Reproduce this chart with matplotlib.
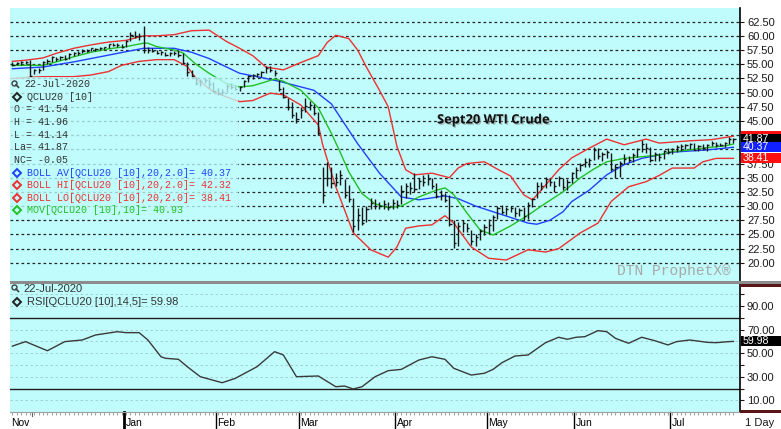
import numpy as np
import pandas as pd
import matplotlib
matplotlib.use('Agg')
import matplotlib.pyplot as plt
import matplotlib.transforms as mtransforms
import matplotlib.patheffects as pe
from matplotlib.patches import Rectangle
from matplotlib.lines import Line2D

plt.rcParams['font.family'] = ['Liberation Sans', 'DejaVu Sans']

# trading days Nov 22 2019 .. Jul 22 2020
holidays = ['2019-11-28', '2019-12-25', '2020-01-01', '2020-01-20',
            '2020-02-17', '2020-04-10', '2020-05-25', '2020-07-03']
dates = pd.bdate_range('2019-11-22', '2020-07-22')
dates = dates[~dates.isin(pd.to_datetime(holidays))]

high = [
    55.3, 55.4, 55.5, 55.6, 55.7, 54.2, 54.3, 55.6, 56.0, 56.4,
    56.3, 56.5, 56.6, 57.0, 57.2, 57.3, 57.6, 57.7, 57.9, 57.9,
    58.0, 58.1, 58.6, 58.7, 58.8, 58.6, 59.2, 60.6, 60.8, 60.5,
    61.8, 58.0, 57.9, 57.5, 57.4, 57.2, 57.1, 57.3, 57.5, 56.9,
    55.3, 54.0, 52.8, 52.4, 52.6, 52.4, 51.9, 50.8, 50.6, 51.5,
    51.6, 51.3, 51.2, 52.3, 53.1, 53.3, 53.4, 53.8, 54.7, 54.6,
    54.0, 52.2, 50.9, 49.0, 48.4, 46.5, 47.5, 49.0, 48.6, 48.0,
    46.6, 36.9, 37.8, 36.8, 35.8, 36.4, 34.8, 33.8, 31.5, 29.6,
    29.8, 30.0, 31.4, 31.2, 30.8, 31.0, 30.7, 31.2, 31.0, 33.7,
    34.0, 34.2, 35.8, 35.0, 35.5, 35.6, 35.0, 34.0, 32.8, 32.3,
    32.0, 27.5, 27.2, 27.6, 27.0, 25.8, 25.0, 26.0, 26.8, 27.8,
    28.5, 30.0, 30.2, 29.9, 30.1, 29.9, 29.6, 29.8, 30.8, 31.5,
    34.2, 34.3, 35.1, 35.0, 34.4, 35.3, 35.0, 34.8, 36.0, 36.8,
    37.6, 38.5, 38.5, 40.4, 40.3, 39.6, 39.8, 39.4, 37.5, 38.0,
    39.1, 38.9, 39.3, 40.3, 41.6, 41.2, 40.4, 39.5, 39.3, 39.9,
    40.2, 40.3, 40.8, 40.9, 41.0, 41.1, 41.1, 40.8, 41.0, 40.9,
    41.4, 41.3, 41.1, 41.3, 42.2, 41.96]
low = [
    54.6, 54.8, 54.9, 55.0, 52.8, 53.2, 53.4, 54.0, 55.0, 55.3,
    55.6, 55.7, 55.8, 55.9, 56.4, 56.7, 56.9, 57.1, 57.3, 57.4,
    57.5, 57.6, 57.9, 58.2, 58.1, 57.8, 58.0, 59.0, 59.6, 59.3,
    56.9, 57.0, 57.1, 56.8, 56.7, 56.4, 56.4, 56.7, 56.3, 55.0,
    53.0, 52.5, 51.3, 51.2, 51.6, 50.8, 50.1, 49.6, 49.6, 50.1,
    50.7, 50.4, 50.3, 50.9, 51.8, 52.4, 52.7, 52.7, 53.5, 53.6,
    53.0, 50.2, 49.0, 47.0, 45.5, 44.6, 45.5, 46.5, 47.0, 46.0,
    42.5, 30.5, 33.5, 33.2, 33.6, 33.7, 31.5, 30.8, 25.5, 25.8,
    26.6, 27.2, 29.4, 29.5, 29.4, 29.5, 29.3, 29.5, 29.6, 30.4,
    31.5, 32.2, 32.5, 33.0, 33.5, 33.8, 33.0, 31.4, 31.0, 30.7,
    26.5, 22.6, 23.0, 25.5, 25.4, 23.2, 23.0, 24.0, 24.9, 25.0,
    25.6, 27.8, 28.6, 28.5, 29.0, 28.0, 28.2, 27.6, 27.8, 29.8,
    31.5, 32.8, 33.2, 33.6, 32.5, 33.6, 32.9, 32.8, 34.0, 34.9,
    36.2, 36.8, 36.9, 38.1, 38.3, 38.0, 38.5, 36.2, 35.0, 35.2,
    37.5, 37.7, 37.8, 38.6, 39.5, 39.3, 37.8, 37.9, 38.0, 38.3,
    39.2, 39.1, 39.6, 39.7, 40.0, 40.0, 39.8, 39.7, 39.8, 39.7,
    40.6, 40.4, 40.5, 40.4, 41.0, 41.14]
close = [
    54.9, 55.2, 55.3, 55.4, 53.0, 53.9, 54.0, 55.4, 55.6, 56.2,
    55.9, 56.2, 56.0, 56.8, 56.9, 57.0, 57.4, 57.3, 57.8, 57.7,
    57.8, 58.0, 58.5, 58.4, 58.3, 58.1, 59.0, 60.2, 59.9, 60.0,
    57.5, 57.5, 57.4, 57.0, 57.2, 56.6, 56.9, 57.0, 56.6, 55.2,
    53.6, 52.9, 51.6, 52.0, 52.2, 51.5, 50.3, 50.0, 50.1, 51.2,
    51.0, 50.6, 50.9, 52.0, 52.9, 53.1, 53.2, 53.6, 54.4, 54.0,
    53.5, 50.6, 49.3, 47.5, 46.0, 45.3, 47.0, 47.6, 47.8, 46.4,
    42.9, 32.0, 35.0, 34.0, 34.3, 35.5, 32.0, 31.2, 26.5, 28.5,
    27.0, 29.5, 30.5, 30.0, 30.1, 30.3, 29.8, 30.6, 30.2, 32.7,
    33.5, 33.2, 33.0, 34.5, 34.2, 34.8, 33.6, 31.8, 32.0, 31.0,
    26.9, 23.5, 26.5, 27.0, 26.2, 23.8, 24.5, 25.6, 26.4, 26.6,
    28.0, 29.6, 28.9, 29.4, 29.7, 28.7, 29.3, 28.2, 30.2, 31.2,
    33.6, 33.5, 34.8, 34.3, 33.5, 34.9, 33.4, 34.2, 35.8, 36.4,
    37.3, 37.8, 38.2, 39.9, 38.8, 39.2, 39.6, 36.6, 36.9, 37.6,
    38.3, 38.2, 39.0, 40.0, 40.9, 40.2, 38.2, 39.1, 38.6, 39.7,
    39.5, 40.0, 40.4, 40.5, 40.7, 40.9, 39.9, 40.6, 40.2, 40.7,
    41.2, 40.8, 40.7, 41.2, 41.9, 41.87]

# bollinger upper / lower / average and 10-day average, read at sample days
hi_idx = [0, 3, 7, 10, 14, 18, 22, 26, 30, 33, 37, 41, 45, 49, 52, 55, 58, 62, 66, 70,
          72, 74, 77, 79, 81, 84, 86, 88, 90, 92, 96, 100, 102, 104, 108, 111, 114, 117, 119, 121,
          125, 128, 132, 136, 140, 145, 148, 155, 160, 165]
hi_val = [55.5, 55.7, 56.1, 56.9, 57.8, 58.4, 58.9, 59.2, 60.0, 60.0, 60.2, 60.9, 61.0, 59.0, 57.8,
          56.5, 54.5, 54.0, 55.3, 56.5, 58.8, 60.1, 59.5, 57.5, 54.5, 50.4, 47.5, 40.5, 36.4, 35.5,
          35.8, 35.0, 36.7, 37.5, 37.8, 36.5, 35.3, 32.0, 31.1, 32.8, 36.4, 38.5, 40.2, 41.8, 40.8,
          41.8, 41.1, 41.5, 41.7, 42.32]
lo_idx = [0, 7, 14, 18, 22, 25, 29, 33, 37, 40, 42, 46, 52, 55, 59, 62, 66, 70, 71, 74,
          78, 82, 86, 88, 90, 93, 96, 99, 101, 105, 109, 113, 118, 122, 125, 130, 134, 137, 141, 145,
          148, 151, 156, 158, 161, 165]
lo_val = [52.5, 52.8, 52.8, 53.1, 53.7, 54.8, 55.5, 55.8, 55.8, 54.6, 52.5, 50.1, 48.4, 48.6, 49.9,
          49.6, 47.8, 44.3, 40.8, 33.4, 25.3, 22.3, 21.0, 22.8, 26.1, 26.5, 26.7, 28.3, 27.0, 22.8,
          20.8, 20.5, 22.3, 21.9, 22.5, 25.3, 27.0, 30.8, 33.4, 34.3, 35.4, 36.7, 36.7, 37.8, 38.4,
          38.41]
av_idx = [0, 7, 14, 18, 22, 26, 30, 37, 41, 45, 49, 52, 56, 61, 66, 69, 73, 76, 79, 84,
          89, 93, 99, 102, 106, 110, 114, 118, 120, 123, 126, 128, 132, 136, 140, 144, 148, 151, 155, 159,
          163, 165]
av_val = [54.2, 54.5, 55.4, 56.0, 56.6, 57.2, 57.8, 57.8, 57.1, 56.0, 54.5, 53.4, 52.8, 52.0, 51.0,
          50.4, 48.0, 44.5, 41.0, 35.8, 31.6, 31.1, 31.8, 31.3, 30.0, 29.0, 28.0, 27.0, 26.8, 27.5,
          29.0, 30.8, 32.8, 35.5, 37.3, 38.4, 39.0, 39.5, 39.7, 39.9, 40.2, 40.37]
ma_idx = [0, 7, 10, 14, 18, 22, 26, 30, 31, 33, 37, 39, 42, 45, 49, 52, 55, 58, 60, 62,
          66, 70, 73, 75, 77, 80, 83, 86, 89, 93, 97, 99, 101, 104, 107, 110, 114, 118, 122, 126,
          130, 133, 136, 140, 144, 148, 151, 155, 159, 163, 165]
ma_val = [54.8, 54.8, 55.4, 56.3, 57.1, 57.7, 58.1, 58.7, 58.7, 58.1, 57.5, 57.0, 55.0, 53.4, 51.6,
          51.0, 51.2, 51.9, 52.4, 52.0, 50.4, 47.3, 42.8, 39.5, 36.0, 32.2, 30.4, 29.7, 30.0, 31.6,
          32.8, 33.2, 32.0, 28.8, 25.8, 24.9, 26.5, 28.4, 30.5, 32.5, 35.0, 36.5, 37.8, 38.4, 38.7,
          39.0, 39.6, 39.9, 40.3, 40.6, 40.93]

rsi_idx = [0, 3, 8, 12, 16, 19, 24, 26, 29, 31, 34, 35, 38, 40, 43, 48, 51, 56, 60, 62,
           65, 70, 74, 76, 78, 80, 83, 86, 89, 93, 96, 99, 101, 105, 108, 110, 112, 115, 118, 122,
           125, 127, 129, 131, 134, 136, 138, 141, 144, 147, 150, 152, 155, 159, 161, 164, 165]
rsi_val = [56.0, 59.8, 52.1, 59.8, 61.2, 65.4, 68.2, 67.4, 67.4, 61.2, 47.0, 45.7, 44.8, 38.6, 30.1,
           25.0, 28.7, 38.6, 51.3, 48.5, 30.1, 30.7, 21.6, 22.2, 19.7, 21.6, 30.1, 35.2, 36.3, 44.2,
           47.0, 44.8, 37.2, 31.5, 33.0, 36.3, 41.9, 47.6, 48.5, 58.9, 63.5, 61.8, 63.5, 64.0, 69.1,
           68.2, 62.6, 58.4, 63.5, 60.6, 57.0, 59.8, 61.2, 59.2, 58.9, 59.8, 59.98]

months = ['Nov', 'Dec', 'Jan', 'Feb', 'Mar', 'Apr', 'May', 'Jun', 'Jul']

W, H = 781, 429
BG = '#c0fcfc'
BLUE, RED, GREEN = '#2040ff', '#ee3030', '#22c022'


def fx(px):
    return px / W


def fy(py):
    return 1 - py / H


fig = plt.figure(figsize=(W / 100, H / 100), dpi=100)
ax1 = fig.add_axes([fx(10), fy(281), 730 / W, 273 / H], facecolor=BG)
ax2 = fig.add_axes([fx(10), fy(412), 730 / W, 128 / H], facecolor=BG)

x = np.arange(len(dates))

# ---- price panel
grid_lv = np.arange(20, 62.51, 2.5)
for v in grid_lv:
    ax1.axhline(v, color='#262626', lw=0.9, ls=(0, (2.2, 2.2)), zorder=1)

ax1.plot(hi_idx, hi_val, color=RED, lw=1, zorder=2)
ax1.plot(lo_idx, lo_val, color=RED, lw=1, zorder=2)
ax1.plot(av_idx, av_val, color=BLUE, lw=1, zorder=2)
ax1.plot(ma_idx, ma_val, color=GREEN, lw=1, zorder=2)
ax1.vlines(x, low, high, color='#151515', lw=1, zorder=3)
ax1.hlines(close, x, x + 0.5, color='#151515', lw=1, zorder=3)

ax1.set_xlim(-0.55, 166.5)
ax1.set_ylim(16.8, 64.9)
ax1.yaxis.tick_right()
ax1.set_yticks(grid_lv)
# 42.50 and 40.00 sit under the value flags and are not shown
ax1.set_yticklabels(['' if v in (42.5, 40.0) else '%.2f' % v for v in grid_lv])
ax1.tick_params(axis='y', direction='out', length=3, width=0.8, pad=2,
                labelsize=8, colors='#1a1a1a')
ax1.set_xticks([])
for s in ['top', 'left', 'bottom']:
    ax1.spines[s].set_visible(False)
ax1.spines['right'].set_linewidth(1.2)

# ---- RSI panel
for v in [10, 30, 40, 50, 60, 70, 90, 100]:
    ax2.axhline(v, color='#9ccccc', lw=0.6, ls=(0, (3, 3)), zorder=1)
ax2.axhline(80, color='#202020', lw=1, zorder=2)
ax2.axhline(20, color='#202020', lw=1, zorder=2)
ax2.plot(rsi_idx, rsi_val, color='#3a3a3a', lw=1, zorder=3)
ax2.set_xlim(-0.55, 166.5)
ax2.set_ylim(0.2, 108.6)
ax2.yaxis.tick_right()
rsi_ticks = list(range(10, 101, 10))
ax2.set_yticks(rsi_ticks)
ax2.set_yticklabels(['%.2f' % v if v % 20 == 10 and v != 60 else '' for v in rsi_ticks])
ax2.tick_params(axis='y', direction='out', length=3, width=0.8, pad=2,
                labelsize=8, colors='#1a1a1a')
ax2.set_xticks([])
ax2.set_xticks(x, minor=True)
ax2.tick_params(axis='x', which='minor', length=2, width=0.6, color='#909090')
for s in ['top', 'left']:
    ax2.spines[s].set_visible(False)
ax2.spines['bottom'].set_color('#a0a0a0')
ax2.spines['right'].set_linewidth(1.2)

# month ruler
month_start = [0]
for i in range(1, len(dates)):
    if dates[i].month != dates[i - 1].month:
        month_start.append(i)
xt = ax2.get_xaxis_transform()
for k, i in enumerate(month_start):
    name = months[k]
    if name == 'Nov':
        ax2.text(-0.3, -0.085, name, transform=xt, ha='left', va='center', fontsize=7.5)
        continue
    if name == 'Dec':
        ax2.plot([i - 0.5, i - 0.5], [0, -0.035], transform=xt, color='#606060',
                 lw=0.8, clip_on=False)
        continue
    ax2.plot([i - 0.5, i - 0.5], [0, -0.14], transform=xt, color='black',
             lw=2 if name == 'Jan' else 1, clip_on=False)
    ax2.text(i - 0.1, -0.085, name, transform=xt, ha='left', va='center', fontsize=7.5)

# separators
fig.add_artist(Rectangle((fx(10), fy(284)), fx(781) - fx(10), 3 / H, transform=fig.transFigure,
                         facecolor='#8c8c8c', edgecolor='none', zorder=1))
fig.add_artist(Rectangle((fx(740), fy(286.5)), fx(781) - fx(740), 3 / H, transform=fig.transFigure,
                         facecolor='#5a1616', edgecolor='none', zorder=1.1))
fig.add_artist(Rectangle((fx(740), fy(413)), fx(781) - fx(740), 3.5 / H, transform=fig.transFigure,
                         facecolor='#5a1616', edgecolor='none', zorder=1.1))

# translucent legend background
fig.add_artist(Rectangle((fx(10), fy(216)), fx(238) - fx(10), (216 - 77) / H,
                         transform=fig.transFigure, facecolor=BG, edgecolor='none',
                         alpha=0.78, zorder=1))


def magnifier(px, py):
    fig.add_artist(Line2D([fx(px)], [fy(py)], marker='o', markersize=3.6, mfc='none',
                          mec='#404040', mew=1, transform=fig.transFigure, zorder=3))
    fig.add_artist(Line2D([fx(px + 2), fx(px + 4.5)], [fy(py + 2), fy(py + 4.5)],
                          color='#404040', lw=1.2, transform=fig.transFigure, zorder=3))


def diamond(px, py, c):
    fig.add_artist(Line2D([fx(px)], [fy(py)], marker='D', markersize=3.6, mfc='none',
                          mec=c, mew=1.4, transform=fig.transFigure, zorder=3))


mono = ['Liberation Mono', 'DejaVu Sans Mono']
y0, dy = 84.3, 12.6
txtc = '#333333'
magnifier(14, y0 - 1.5)
fig.text(fx(24), fy(y0), '22-Jul-2020', family=mono, fontsize=7.2, color=txtc, va='center')
diamond(17, y0 + dy, '#222222')
fig.text(fx(27), fy(y0 + dy), 'QCLU20 [10]', family=mono, fontsize=7.2, color=txtc, va='center')
ohl = ['O = 41.54', 'H = 41.96', 'L = 41.14', 'La= 41.87', 'NC= -0.05']
for k, s in enumerate(ohl):
    fig.text(fx(14), fy(y0 + (k + 2) * dy), s, family=mono, fontsize=7.2, color=txtc, va='center')
leg = [('BOLL AV[QCLU20 [10],20,2.0]= 40.37', BLUE),
       ('BOLL HI[QCLU20 [10],20,2.0]= 42.32', RED),
       ('BOLL LO[QCLU20 [10],20,2.0]= 38.41', RED),
       ('MOV[QCLU20 [10],10]= 40.93', GREEN)]
for k, (s, c) in enumerate(leg):
    yy = y0 + (k + 7) * dy
    diamond(17, yy, c)
    fig.text(fx(27), fy(yy), s, family=mono, fontsize=7.2, color=c, va='center')

# RSI legend
magnifier(14, 287)
fig.text(fx(23), fy(288.5), '22-Jul-2020', fontsize=8, color=txtc, va='center')
diamond(17, 302.3, '#222222')
fig.text(fx(27), fy(302.3), 'RSI[QCLU20 [10],14,5]= 59.98', fontsize=8, color=txtc, va='center')

# title and watermark
fig.text(fx(437), fy(120), 'Sept20 WTI Crude', family=['Open Sans', 'DejaVu Sans'],
         fontsize=9.3, fontweight='bold', color='#111111', va='center',
         path_effects=[pe.SimplePatchShadow(offset=(1, -1), shadow_rgbFace='#888888', alpha=0.5),
                       pe.Normal()])
fig.text(fx(731), fy(271.5), 'DTN ProphetX\u00ae', family=mono, fontsize=10.5,
         color='#a8a8a8', ha='right', va='center')
fig.text(fx(745), fy(423), '1 Day', fontsize=8, color='#1a1a1a', va='center')


# value flags on the right axis
def flag(ax, v, c, s, hpx, z):
    tr = mtransforms.blended_transform_factory(fig.transFigure, ax.transData)
    y_lo, y_hi = ax.get_ylim()
    ppu = ax.get_position().height * H / (y_hi - y_lo)
    hd = hpx / ppu
    fig.add_artist(Rectangle((fx(741), v - hd / 2), fx(781) - fx(741), hd, transform=tr,
                             facecolor=c, edgecolor='none', zorder=z))
    if s:
        fig.text(fx(743), v, s, transform=tr, color='white', fontsize=7.6, va='center',
                 zorder=z + 0.5)


flag(ax1, 42.32, '#ff1010', '', 10, 10)   # covered by the last-price flag
flag(ax1, 41.87, '#000000', '41.87', 10, 11)
flag(ax1, 40.37, '#1020ff', '40.37', 10, 12)
flag(ax1, 38.41, '#ff1010', '38.41', 10, 13)
flag(ax2, 59.98, '#000000', '59.98', 10, 14)

fig.savefig('out.png', dpi=100, facecolor='white')
